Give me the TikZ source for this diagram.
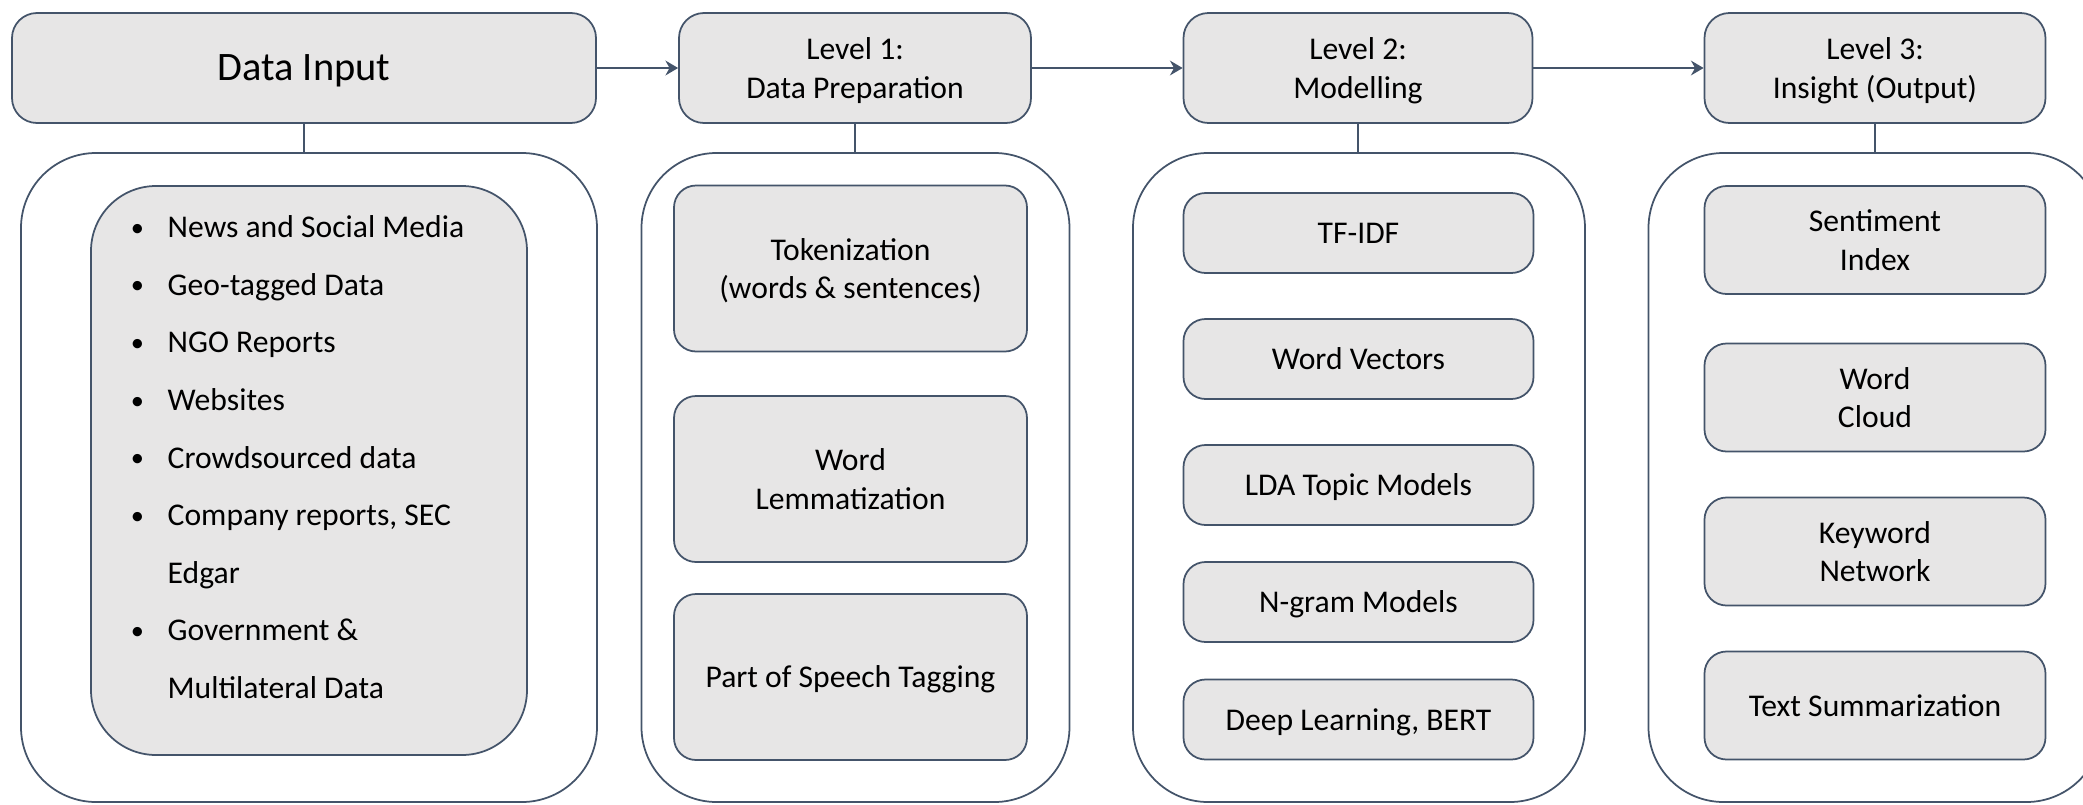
\documentclass[tikz,border=0pt]{standalone}
\usepackage{fontspec}
\setmainfont{Carlito}
\usetikzlibrary{arrows.meta}
\definecolor{boxline}{HTML}{44546A}
\definecolor{boxfill}{HTML}{E7E6E6}

\begin{document}
\begin{tikzpicture}[
  hdr/.style={draw=boxline,fill=boxfill,rounded corners=0.25cm,line width=0.5pt,minimum height=1.1cm,inner sep=0pt,text depth=0pt,align=center,font=\fontsize{9}{11}\selectfont},
  panel/.style={draw=boxline,rounded corners=0.75cm,line width=0.5pt,minimum height=6.49cm,inner sep=0pt},
  stage/.style={draw=boxline,fill=boxfill,rounded corners=0.22cm,line width=0.5pt,inner sep=0pt,text depth=0pt,align=center,font=\fontsize{9}{11}\selectfont},
  lst/.style={anchor=base west,inner sep=0pt,font=\fontsize{9}{11}\selectfont},
  conn/.style={draw=boxline,line width=0.6pt},
  tip/.style={-{Stealth[length=3.6pt,width=4.2pt]}},
]
\path[use as bounding box,clip] (0,0) rectangle (20.83,8.04);

% top row
\node[hdr,minimum width=5.84cm,font=\fontsize{11.5}{14}\selectfont] (din) at (3.04,7.36) {Data Input};
\node[hdr,minimum width=3.52cm] (lv1) at (8.55,7.36) {Level 1:\\Data Preparation};
\node[hdr,minimum width=3.49cm] (lv2) at (13.58,7.36) {Level 2:\\Modelling};
\node[hdr,minimum width=3.41cm] (lv3) at (18.75,7.36) {Level 3:\\Insight (Output)};

% panels
\node[panel,minimum width=5.76cm] (p1) at (3.09,3.265) {};
\node[panel,minimum width=4.28cm] (p2) at (8.555,3.265) {};
\node[panel,minimum width=4.52cm] (p3) at (13.59,3.265) {};
\node[panel,minimum width=4.53cm] (p4) at (18.75,3.265) {};

% data sources
\node[stage,minimum width=4.36cm,minimum height=5.69cm,rounded corners=0.65cm] (src) at (3.09,3.335) {};
\foreach \t [count=\i from 0] in {News and Social Media,Geo-tagged Data,NGO Reports,Websites,Crowdsourced data,{Company reports, SEC},Edgar,Government \&,Multilateral Data}
  \node[lst] (s\i) at (1.67,5.663-0.576*\i) {\t};
\foreach \i in {0,1,2,3,4,5,7}
  \node[lst,anchor=base] (b\i) at (1.375,5.663-0.576*\i) {\fontsize{7.5}{8}\selectfont\raisebox{0.4pt}{\textbullet}};

% level 1
\node[stage,minimum width=3.53cm,minimum height=1.66cm] (tok) at (8.505,5.355) {Tokenization\\(words \& sentences)};
\node[stage,minimum width=3.53cm,minimum height=1.66cm] (lem) at (8.505,3.25) {Word\\Lemmatization};
\node[stage,minimum width=3.53cm,minimum height=1.66cm] (pos) at (8.505,1.27) {Part of Speech Tagging};

% level 2
\node[stage,minimum width=3.5cm,minimum height=0.8cm] (tfidf) at (13.585,5.71) {TF-IDF};
\node[stage,minimum width=3.5cm,minimum height=0.8cm] (wvec) at (13.585,4.45) {Word Vectors};
\node[stage,minimum width=3.5cm,minimum height=0.8cm] (lda) at (13.585,3.19) {LDA Topic Models};
\node[stage,minimum width=3.5cm,minimum height=0.8cm] (ngram) at (13.585,2.02) {N-gram Models};
\node[stage,minimum width=3.5cm,minimum height=0.8cm] (bert) at (13.585,0.845) {Deep Learning, BERT};

% level 3
\node[stage,minimum width=3.41cm,minimum height=1.08cm] (sent) at (18.75,5.64) {Sentiment\\Index};
\node[stage,minimum width=3.41cm,minimum height=1.08cm] (cloud) at (18.75,4.065) {Word\\Cloud};
\node[stage,minimum width=3.41cm,minimum height=1.08cm] (kwnet) at (18.75,2.525) {Keyword\\Network};
\node[stage,minimum width=3.41cm,minimum height=1.08cm] (summ) at (18.75,0.985) {Text Summarization};

% connectors
\draw[conn,tip] (din) -- (lv1);
\draw[conn,tip] (lv1) -- (lv2);
\draw[conn,tip] (lv2) -- (lv3);
\draw[conn] (din.south) -- (din.south |- p1.north);
\draw[conn] (lv1.south) -- (lv1.south |- p2.north);
\draw[conn] (lv2.south) -- (lv2.south |- p3.north);
\draw[conn] (lv3.south) -- (lv3.south |- p4.north);
\end{tikzpicture}
\end{document}
